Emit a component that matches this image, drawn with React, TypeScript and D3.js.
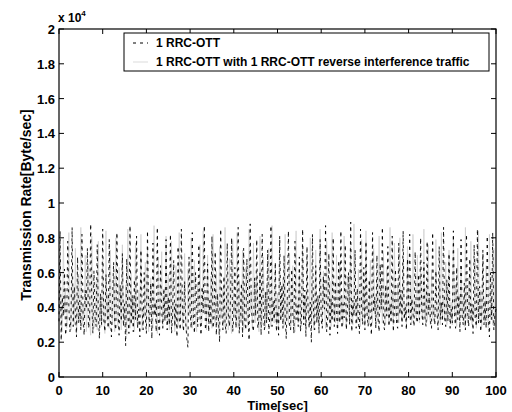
import * as d3 from 'd3';

const WIDTH = 512, HEIGHT = 412;
const margin = { left: 59, right: 16, top: 29, bottom: 35 };

const xTicks = [0, 10, 20, 30, 40, 50, 60, 70, 80, 90, 100];
const yTicks = [0, 0.2, 0.4, 0.6, 0.8, 1, 1.2, 1.4, 1.6, 1.8, 2];
const seriesNames = ['1 RRC-OTT', '1 RRC-OTT with 1 RRC-OTT reverse interference traffic'];

// Byte/sec, sampled evenly over 0..100 sec (one row = 5 sec)
const rrcOtt = [
  3200, 8400, 2100, 4600, 3500, 6200, 2400, 3000, 7800, 4100, 2600, 3300, 8600, 2900, 5200, 3800, 2300, 6900, 3100, 4400,
  2700, 8200, 3600, 2400, 5000, 3900, 7400, 2800, 3200, 8800, 4300, 2500, 6100, 3400, 2900, 7600, 3700, 2200, 4800, 3000,
  8500, 3300, 2600, 5900, 4000, 2800, 7900, 3500, 2300, 4500, 6600, 3100, 2700, 8300, 3800, 2400, 5300, 3200, 7100, 2900,
  4200, 1800, 6800, 3600, 2500, 8700, 3000, 4700, 2600, 5600, 3300, 8100, 2800, 3900, 2300, 7300, 4100, 2700, 6000, 3400,
  2500, 8400, 3700, 2900, 5400, 2200, 7700, 3500, 4300, 2600, 8600, 3100, 2400, 6400, 3800, 2800, 5100, 3200, 7900, 2700,
  4600, 3000, 8200, 2500, 3600, 6700, 2900, 4200, 2300, 7500, 3400, 2700, 8500, 3900, 2600, 5500, 3100, 2200, 1700, 6900,
  3800, 2800, 8300, 3300, 2500, 6000, 4100, 2900, 7600, 3500, 2400, 5200, 3700, 8700, 2700, 3200, 6500, 2600, 4400, 3000,
  8100, 2800, 3600, 7200, 2400, 4800, 3300, 2000, 8500, 3900, 2700, 5800, 3100, 2500, 7700, 3600, 2900, 4500, 8000, 2600,
  3400, 6300, 2800, 4000, 8600, 2500, 3700, 5400, 2300, 7400, 3200, 2700, 6800, 3800, 2100, 8800, 4200, 3000, 2600, 5700,
  3500, 7900, 2800, 3300, 6100, 2400, 8200, 3900, 2700, 4900, 3100, 7300, 2500, 3600, 8700, 2900, 4400, 3300, 6600, 2600,
  3800, 2400, 8100, 3200, 5300, 2800, 7000, 3500, 2200, 4600, 8400, 3000, 2700, 6200, 3700, 2500, 7800, 3300, 4100, 2900,
  6900, 2600, 3400, 8500, 3000, 5000, 2300, 7500, 3800, 2800, 4300, 2000, 8200, 3600, 2700, 6400, 3100, 4700, 2500, 7900,
  3300, 2800, 5800, 3900, 8700, 2600, 3500, 7100, 2400, 4500, 3200, 8000, 2900, 5500, 3700, 2500, 6700, 3100, 8400, 2800,
  4200, 3400, 7600, 2700, 3800, 6000, 3000, 8900, 2600, 4400, 3500, 7300, 2800, 5100, 3300, 2500, 8500, 3900, 3000, 6300,
  2700, 7800, 3600, 2900, 5600, 3200, 2400, 8300, 3700, 4600, 2800, 7000, 3400, 2600, 6500, 3900, 8600, 3000, 2700, 5300,
  3500, 7500, 2900, 4200, 3100, 8100, 2600, 3800, 6200, 3000, 2800, 7700, 3600, 5000, 2900, 8400, 3300, 4000, 2700, 6800,
  3400, 8200, 3000, 4500, 3700, 2900, 7200, 3500, 3100, 5900, 3300, 8000, 3800, 3000, 6600, 3400, 2900, 7800, 3600, 4800,
  3200, 2800, 8300, 3500, 3000, 6100, 3700, 2700, 7500, 3300, 4300, 3000, 8600, 3400, 2900, 5600, 3200, 7100, 2800, 3900,
  3100, 8400, 3600, 2800, 6300, 3300, 4700, 2600, 7900, 3500, 3000, 5400, 2700, 8200, 3800, 2900, 6800, 3200, 4200, 2500,
  7600, 3400, 2900, 8500, 3100, 5200, 2600, 3700, 7300, 3000, 4400, 2800, 8100, 3500, 2300, 6000, 3300, 8300, 2700, 3600,
  3900,
];
const rrcOttReverse = [
  4000, 6800, 3100, 2600, 7900, 3600, 5100, 2800, 3400, 8300, 3900, 2700, 6200, 4500, 3000, 7400, 2500, 3700, 5800, 3200,
  8600, 2900, 4100, 3300, 7000, 2600, 3800, 6500, 3100, 2400, 8100, 4600, 2800, 3500, 5500, 2700, 7800, 3300, 4200, 2900,
  6700, 3600, 2500, 8400, 3200, 4800, 2800, 7300, 3900, 3000, 5600, 2600, 8000, 3400, 2900, 6300, 4300, 2700, 7600, 3500,
  3100, 5300, 2400, 8500, 3800, 2800, 6000, 3300, 4600, 2600, 7700, 3200, 2900, 5000, 3700, 8200, 2700, 4000, 3400, 6600,
  3000, 7500, 2600, 3900, 5700, 3300, 2800, 8700, 3600, 4400, 2500, 6900, 3100, 3800, 7200, 2900, 4700, 3400, 8100, 3000,
  5900, 2700, 3600, 7800, 3200, 4300, 2600, 6400, 3700, 2900, 8300, 3300, 5200, 2800, 3900, 7100, 3000, 2500, 6200, 3500,
  4100, 8000, 2800, 3400, 6700, 3100, 2600, 5400, 3800, 7600, 2900, 3300, 8400, 3600, 4500, 2700, 7000, 3200, 3900, 5800,
  2800, 8200, 3500, 3000, 6100, 4200, 2600, 7500, 3300, 3800, 5100, 2900, 8600, 3400, 4700, 2700, 6800, 3100, 2500, 7900,
  3600, 4400, 3000, 8300, 2800, 5600, 3500, 3200, 7300, 2700, 4000, 6300, 3300, 2900, 8500, 3700, 5000, 2800, 7700, 3400,
  3100, 6000, 4300, 2600, 8100, 3500, 3000, 6900, 3800, 2800, 5400, 3300, 7400, 4100, 2900, 8700, 3600, 3100, 6500, 3000,
  4800, 2700, 7900, 3400, 3900, 5700, 2900, 8200, 3200, 4500, 3000, 7100, 2800, 3700, 6400, 3300, 2600, 8400, 4000, 3100,
  5900, 3500, 2900, 7600, 3300, 4600, 2800, 6800, 3800, 3100, 8000, 3400, 5200, 2700, 3900, 7300, 3200, 4300, 2900, 8500,
  3600, 3000, 6100, 3700, 2800, 7800, 4200, 3300, 5500, 2900, 8300, 3500, 4000, 3100, 7000, 2800, 3800, 6600, 3300, 4700,
  3000, 8100, 3600, 2900, 5800, 4100, 3200, 7500, 3500, 3000, 8800, 3700, 4400, 3100, 6200, 3400, 2900, 7900, 3800, 5000,
  3200, 8400, 3500, 4300, 3000, 6700, 3600, 3100, 7400, 3900, 2900, 5600, 3300, 8100, 3700, 4600, 3100, 7100, 3400, 3000,
  6300, 3800, 3200, 8600, 3500, 4900, 3000, 7700, 3600, 3300, 5400, 3100, 8000, 3900, 3200, 6900, 3400, 4200, 3000, 7500,
  3700, 3300, 5800, 3100, 8200, 3600, 4400, 3200, 7000, 3500, 3100, 6400, 3800, 3300, 8500, 3400, 5100, 3200, 7600, 3600,
  3000, 6000, 3400, 4100, 3100, 7900, 3600, 3300, 5500, 3000, 8300, 3500, 4700, 3200, 6600, 3000, 3700, 7300, 3300, 4300,
  3000, 8100, 3500, 5300, 2900, 7400, 3700, 3200, 6200, 3400, 4500, 2900, 8600, 3600, 3100, 5700, 3300, 7800, 3000, 4000,
  3400, 6800, 2800, 3800, 8400, 3200, 5000, 2900, 7100, 3500, 3100, 6400, 3700, 2800, 8200, 3300, 4600, 3000, 7400, 2900,
  3800,
];

const FONT = "'Liberation Sans', Arial, Helvetica, sans-serif";

const App = () => {
  const x = d3.scaleLinear().domain([0, 100]).range([margin.left, WIDTH - margin.right]);
  const y = d3.scaleLinear().domain([0, 2]).range([HEIGHT - margin.bottom, margin.top]);

  const seriesLine = (n: number) =>
    d3
      .line<number>()
      .x((d, i) => x((i * 100) / (n - 1)))
      .y((d) => y(d / 1e4));

  const x0 = x.range()[0], x1 = x.range()[1];
  const y0 = y.range()[0], y1 = y.range()[1];
  const tl = 5;

  // legend box, upper right
  const lg = { x: 124, y: y1 + 4, w: x1 - 7 - 124, h: 38 };

  return (
    <svg
      width={WIDTH}
      height={HEIGHT}
      style={{ position: 'absolute', left: 0, top: 0, background: '#fff' }}
      fontFamily={FONT}
      fontWeight="bold"
    >
      <rect x={0} y={0} width={WIDTH} height={HEIGHT} fill="#fff" />
      <path d={seriesLine(rrcOttReverse.length)(rrcOttReverse) ?? ''} fill="none" stroke="#c4c4c4" strokeWidth={0.6} />
      <path
        d={seriesLine(rrcOtt.length)(rrcOtt) ?? ''}
        fill="none"
        stroke="#000"
        strokeWidth={0.9}
        strokeDasharray="3,4"
      />

      {/* axes box */}
      <rect x={x0} y={y1} width={x1 - x0} height={y0 - y1} fill="none" stroke="#000" strokeWidth={1.2} />

      {xTicks.map((t) => (
        <g key={'x' + t}>
          <line x1={x(t)} x2={x(t)} y1={y0} y2={y0 - tl} stroke="#000" />
          <line x1={x(t)} x2={x(t)} y1={y1} y2={y1 + tl} stroke="#000" />
          <text x={x(t)} y={y0 + 18} textAnchor="middle" fontSize={13}>{t}</text>
        </g>
      ))}
      {yTicks.map((t) => (
        <g key={'y' + t}>
          <line x1={x0} x2={x0 + tl} y1={y(t)} y2={y(t)} stroke="#000" />
          <line x1={x1} x2={x1 - tl} y1={y(t)} y2={y(t)} stroke="#000" />
          <text x={x0 - 4} y={y(t) + 5} textAnchor="end" fontSize={13}>{t}</text>
        </g>
      ))}

      <text x={x0 - 1} y={y1 - 7} fontSize={12}>
        x 10<tspan dy={-6} fontSize={8}>4</tspan>
      </text>

      <text x={(x0 + x1) / 2} y={HEIGHT - 2} textAnchor="middle" fontSize={13}>Time[sec]</text>
      <text
        transform={`translate(31,${(y0 + y1) / 2 + 2}) rotate(-90)`}
        textAnchor="middle"
        fontSize={14}
      >
        Transmission Rate[Byte/sec]
      </text>

      {/* legend */}
      <rect x={lg.x} y={lg.y} width={lg.w} height={lg.h} fill="#fff" stroke="#000" strokeWidth={1} />
      <line x1={lg.x + 9} x2={lg.x + 24} y1={lg.y + 10} y2={lg.y + 10} stroke="#000" strokeDasharray="3,4" />
      <line x1={lg.x + 9} x2={lg.x + 24} y1={lg.y + 29} y2={lg.y + 29} stroke="#c4c4c4" strokeWidth={0.6} />
      <text x={lg.x + 32} y={lg.y + 14} fontSize={12}>{seriesNames[0]}</text>
      <text x={lg.x + 32} y={lg.y + 33} fontSize={12}>{seriesNames[1]}</text>
    </svg>
  );
};

export default App;
